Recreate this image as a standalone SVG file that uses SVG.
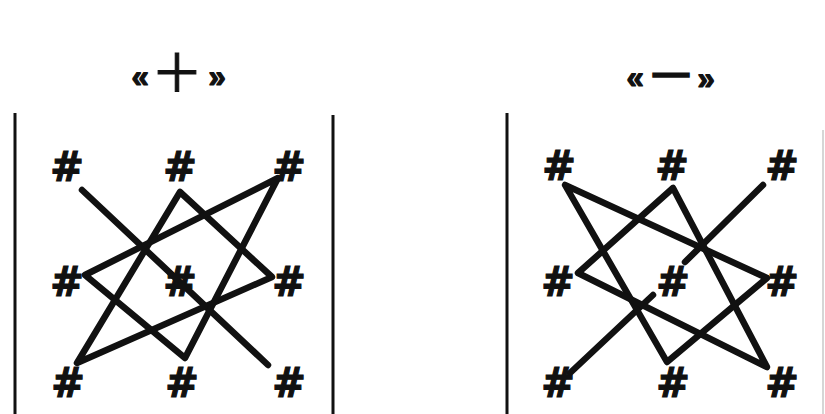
<svg xmlns="http://www.w3.org/2000/svg" width="825" height="414" viewBox="0 0 825 414">
<style>
.bg{fill:#ffffff}
.hash{font-family:"DejaVu Sans",sans-serif;font-weight:bold;font-size:40px;fill:#111;stroke:#111;stroke-width:1.2;text-anchor:middle}
.gq{font-family:"Liberation Sans",sans-serif;font-weight:bold;font-size:31px;fill:#111;stroke:#111;stroke-width:1.2;text-anchor:middle}
.sign{font-family:"Noto Sans CJK SC",sans-serif;font-size:52px;fill:#111;stroke:#111;stroke-width:1;text-anchor:middle}
.dash{font-family:"Liberation Sans",sans-serif;font-weight:bold;font-size:36px;fill:#111;stroke:#111;stroke-width:1.5;text-anchor:middle}
.edge{stroke:#111;stroke-width:6.5;fill:none;stroke-linecap:round;stroke-linejoin:round}
.frame{stroke:#111;stroke-width:3;fill:none}
.faint{stroke:#c8c8c8;stroke-width:1.5;fill:none}
</style>
<rect class="bg" x="0" y="0" width="825" height="414"/>

<g id="frames">
  <line class="frame" x1="15" y1="113" x2="15" y2="414"/>
  <line class="frame" x1="333" y1="115" x2="333" y2="414"/>
  <line class="frame" x1="507" y1="113" x2="507" y2="414"/>
  <line class="faint" x1="823" y1="130" x2="823" y2="414"/>
</g>

<g id="title-plus">
  <text class="gq" x="140" y="87">«</text>
  <text class="sign" x="177" y="92">＋</text>
  <text class="gq" x="217" y="87">»</text>
</g>
<g id="title-minus">
  <text class="gq" x="635" y="88">«</text>
  <text class="dash" x="671" y="85">—</text>
  <text class="gq" x="706" y="89">»</text>
</g>

<g id="connectors">
  <!-- left panel -->
  <line class="edge" x1="82" y1="190" x2="268" y2="365"/>
  <polygon class="edge" points="180,192 77,363 272,277"/>
  <polygon class="edge" points="278,178 85,275 185,358"/>
  <!-- right panel -->
  <line class="edge" x1="570" y1="373" x2="653" y2="295"/>
  <line class="edge" x1="685" y1="262" x2="763" y2="185"/>
  <polygon class="edge" points="565,185 667,362 767,278"/>
  <polygon class="edge" points="673,188 578,273 767,367"/>
</g>

<g id="L-1-1"><text class="hash" x="67" y="181">#</text></g>
<g id="L-1-2"><text class="hash" x="180" y="181">#</text></g>
<g id="L-1-3"><text class="hash" x="289" y="181">#</text></g>
<g id="L-2-1"><text class="hash" x="67" y="296">#</text></g>
<g id="L-2-2"><text class="hash" x="180" y="296">#</text></g>
<g id="L-2-3"><text class="hash" x="289" y="296">#</text></g>
<g id="L-3-1"><text class="hash" x="68" y="397">#</text></g>
<g id="L-3-2"><text class="hash" x="182" y="397">#</text></g>
<g id="L-3-3"><text class="hash" x="289" y="397">#</text></g>

<g id="R-1-1"><text class="hash" x="559" y="180">#</text></g>
<g id="R-1-2"><text class="hash" x="672" y="180">#</text></g>
<g id="R-1-3"><text class="hash" x="782" y="180">#</text></g>
<g id="R-2-1"><text class="hash" x="558" y="296">#</text></g>
<g id="R-2-2"><text class="hash" x="673" y="296">#</text></g>
<g id="R-2-3"><text class="hash" x="782" y="296">#</text></g>
<g id="R-3-1"><text class="hash" x="558" y="397">#</text></g>
<g id="R-3-2"><text class="hash" x="673" y="397">#</text></g>
<g id="R-3-3"><text class="hash" x="782" y="397">#</text></g>
</svg>
